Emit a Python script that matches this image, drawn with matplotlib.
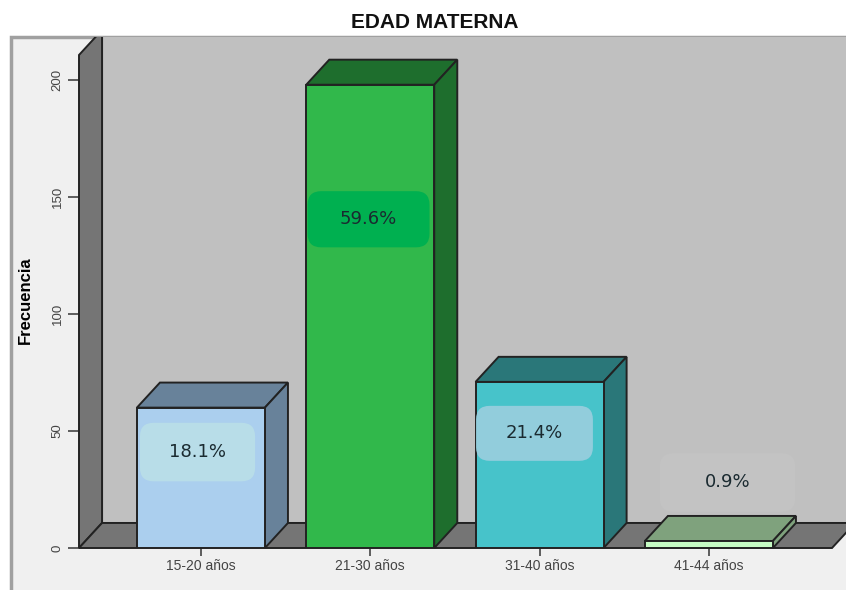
import matplotlib
matplotlib.use("Agg")
import matplotlib.pyplot as plt
from matplotlib.patches import Rectangle, Polygon, FancyBboxPatch

plt.rcParams['font.family'] = ['Liberation Sans', 'DejaVu Sans']

# datos
categorias = ["15-20 años", "21-30 años", "31-40 años", "41-44 años"]
frecuencias = [60, 198, 71, 3]
porcentajes = ["18.1%", "59.6%", "21.4%", "0.9%"]
ticks_y = [0, 50, 100, 150, 200]

# estilo de cada barra
color_frente = ["#ABCFEE", "#31B84B", "#47C3CA", "#C6FBC4"]
color_lado = ["#68829A", "#1E6E2D", "#2A7779", "#7FA27D"]
color_caja = ["#B8DDE8", "#00B050", "#92CDDC", "#C3C3C3"]
altura_caja = [41, 140.5, 49, 28]  # centro de la etiqueta, en frecuencia
centro_caja = [-0.02, -0.01, -0.03, 0.11]
ancho_caja = [0.68, 0.72, 0.69, 0.80]
alto_caja = [25, 24, 23.5, 25]

W, H = 846, 590
fig = plt.figure(figsize=(W / 100, H / 100), dpi=100, facecolor="white")

# panel gris claro de fondo
panel = Rectangle((11 / W, -0.05), 1, (H - 37) / H + 0.05, transform=fig.transFigure,
                  facecolor="#F0F0F0", edgecolor="#A0A0A0", linewidth=2.5, zorder=-1)
fig.patches.append(panel)

ax = fig.add_axes([79 / W, (H - 548) / H, (832 - 79) / W, (548 - 55) / H])
ax.set_xlim(-0.72, 3.727)
ax.set_ylim(0, 210.7)
ax.patch.set_visible(False)
for s in ax.spines.values():
    s.set_visible(False)

# profundidad 3D en unidades de datos
dx = 0.136
dy = 10.7
x0, x1 = ax.get_xlim()
y1 = ax.get_ylim()[1]


def poli(puntos, color, z, lw=1.4):
    p = Polygon(puntos, closed=True, facecolor=color, edgecolor="#222222",
                linewidth=lw, zorder=z)
    ax.add_patch(p)
    p.set_clip_path(panel)
    return p


# paredes y piso
poli([(x0 + dx, dy), (x1 + dx, dy), (x1 + dx, y1 + dy), (x0 + dx, y1 + dy)], "#C0C0C0", 1, lw=0.8)
poli([(x0, 0), (x0 + dx, dy), (x0 + dx, y1 + dy), (x0, y1)], "#757575", 2)
poli([(x0, 0), (x1, 0), (x1 + dx, dy), (x0 + dx, dy)], "#757575", 2)

# barras
ancho = 0.756
posiciones = list(range(len(categorias)))
ax.bar(posiciones, frecuencias, width=ancho, color=color_frente,
       edgecolor="#222222", linewidth=1.4, zorder=5)
for i, v in enumerate(frecuencias):
    a = i - ancho / 2
    b = i + ancho / 2
    poli([(a, v), (b, v), (b + dx, v + dy), (a + dx, v + dy)], color_lado[i], 4)
    poli([(b, 0), (b + dx, dy), (b + dx, v + dy), (b, v)], color_lado[i], 4)

# etiquetas de porcentaje en cajas redondeadas
aspecto = (753 / 4.447) / (493 / 210.7)
for i, txt in enumerate(porcentajes):
    cx = i + centro_caja[i]
    cy = altura_caja[i]
    ac, hc = ancho_caja[i], alto_caja[i]
    caja = FancyBboxPatch((cx - ac / 2, cy - hc / 2), ac, hc,
                          boxstyle="round,pad=0,rounding_size=0.08",
                          mutation_aspect=aspecto, facecolor=color_caja[i],
                          edgecolor="none", zorder=6)
    ax.add_patch(caja)
    ax.text(cx, cy, txt, ha="center", va="center", fontsize=13,
            family="DejaVu Sans", color="#1A2A30", zorder=7)

# ejes
ax.set_xticks(posiciones)
ax.set_xticklabels(categorias)
ax.set_yticks(ticks_y)
ax.set_yticklabels([str(t) for t in ticks_y], rotation=90, va="center")
ax.tick_params(axis="x", length=6, width=1.2, color="#444444", labelsize=10,
               labelcolor="#444444", pad=2)
ax.tick_params(axis="y", length=8, width=1.2, color="#444444", labelsize=9.5,
               labelcolor="#444444", pad=3)
ax.set_ylabel("Frecuencia", fontsize=12, fontweight="bold", color="black")
ax.yaxis.set_label_coords(-46 / 753, (548 - 300) / 493)

fig.text(435 / W, (H - 22) / H, "EDAD MATERNA", ha="center", va="center",
         fontsize=15, fontweight="bold", color="#111111")

fig.savefig("out.png", dpi=100)
